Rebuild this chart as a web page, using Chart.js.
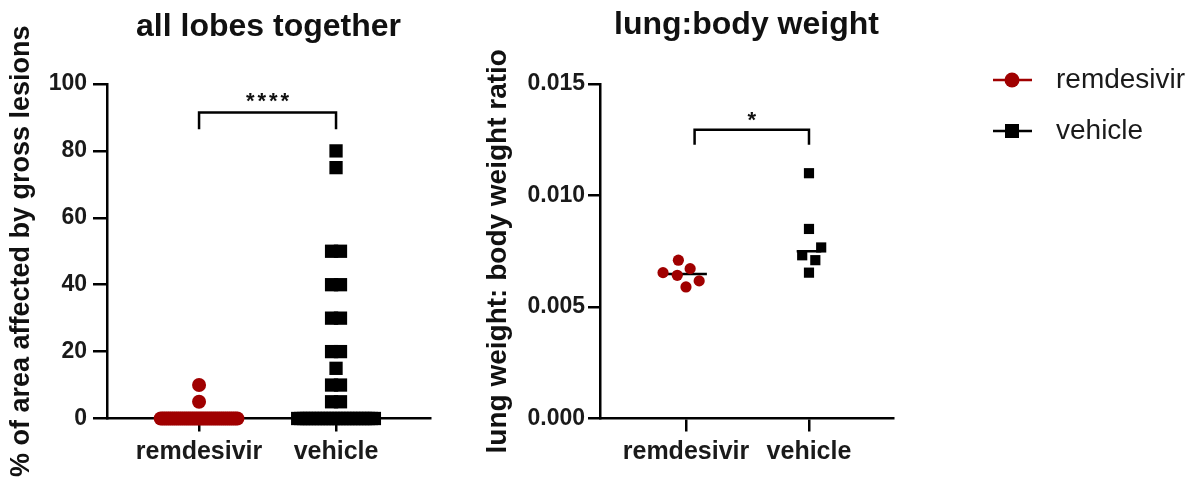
<!DOCTYPE html>
<html>
<head>
<meta charset="utf-8">
<script src="https://cdn.jsdelivr.net/npm/chart.js@4.4.1/dist/chart.umd.min.js"></script>
<style>
  html, body { margin: 0; padding: 0; background: #fff; }
  #wrap { position: relative; width: 1196px; height: 483px; }
  .box { position: absolute; top: 0; height: 483px; }
  #box1 { left: 0; width: 465px; }
  #box2 { left: 465px; width: 731px; }
</style>
</head>
<body>
<div id="wrap">
  <div class="box" id="box1"><canvas id="lobes"></canvas></div>
  <div class="box" id="box2"><canvas id="ratio"></canvas></div>
</div>
<script>
// groups on the x axis
const groups = ["remdesivir", "vehicle"];

// % of area affected by gross lesions (one value per lobe)
const lobesRemdesivir = [10, 5,
  0, 0, 0, 0, 0, 0, 0, 0, 0, 0,
  0, 0, 0, 0, 0, 0, 0, 0, 0, 0,
  0, 0, 0, 0, 0, 0, 0, 0, 0, 0,
  0, 0, 0, 0, 0, 0, 0, 0, 0, 0];
const lobesVehicle = [80, 75, 50, 50, 40, 40, 30, 30, 20, 20, 15, 10, 10, 5, 5,
  0, 0, 0, 0, 0, 0, 0, 0, 0, 0,
  0, 0, 0, 0, 0, 0, 0, 0, 0, 0,
  0, 0, 0, 0, 0, 0, 0];

// lung weight : body weight ratio (one value per animal)
const ratioRemdesivir = [0.0071, 0.00654, 0.0059, 0.00642, 0.00672, 0.00617];
const ratioVehicle    = [0.0110, 0.0085, 0.00767, 0.00732, 0.0071, 0.00654];

// tick labels
const lobesTicks = [0, 20, 40, 60, 80, 100];
const ratioTicks = [0, 0.005, 0.010, 0.015];

const RED = "#a00000";
const FONT = "'Liberation Sans', Arial, sans-serif";
Chart.defaults.font.family = FONT;
Chart.defaults.color = "#1a1a1a";
Chart.defaults.animation = false;

function median(arr) {
  const s = [...arr].sort((a, b) => a - b);
  const m = Math.floor(s.length / 2);
  return s.length % 2 ? s[m] : (s[m - 1] + s[m]) / 2;
}

// points with equal values are laid side by side, squeezed if there are many
function packRow(values, center, step, maxSpread) {
  const counts = {}, seen = {};
  values.forEach(v => counts[v] = (counts[v] || 0) + 1);
  return values.map(v => {
    const k = counts[v];
    const i = seen[v] = (seen[v] === undefined ? 0 : seen[v] + 1);
    const s = k > 1 ? Math.min(step, maxSpread / (k - 1)) : 0;
    return { x: center + (i - (k - 1) / 2) * s, y: v };
  });
}

// simple beeswarm in pixel space
function swarm(chart, values, center, diam) {
  const xs = chart.scales.x, ys = chart.scales.y;
  const unit = xs.getPixelForValue(1) - xs.getPixelForValue(0);
  const placed = [];
  const res = new Array(values.length);
  const order = values.map((v, i) => i).sort((a, b) => values[a] - values[b]);
  order.forEach(i => {
    const py = ys.getPixelForValue(values[i]);
    const cands = [0];
    placed.forEach(p => {
      const dy = py - p.py;
      if (Math.abs(dy) < diam) {
        const dx = Math.sqrt(diam * diam - dy * dy);
        cands.push(p.dx + dx, p.dx - dx);
      }
    });
    cands.sort((a, b) => Math.abs(a) - Math.abs(b));
    const dx = cands.find(c => placed.every(p => (c - p.dx) ** 2 + (py - p.py) ** 2 >= diam * diam - 0.01));
    placed.push({ dx: dx, py: py });
    res[i] = { x: center + dx / unit, y: values[i] };
  });
  return res;
}

function medianLine(values, center, half) {
  const m = median(values);
  return [{ x: center - half, y: m }, { x: center + half, y: m }];
}

// significance bracket
const bracketPlugin = {
  id: "bracket",
  afterDatasetsDraw(chart, args, opts) {
    const { ctx, scales: { x, y } } = chart;
    const x1 = x.getPixelForValue(opts.from), x2 = x.getPixelForValue(opts.to);
    const yTop = y.getPixelForValue(opts.y), yLeg = y.getPixelForValue(opts.y - opts.leg);
    ctx.save();
    ctx.strokeStyle = "#000";
    ctx.lineWidth = 2.5;
    ctx.beginPath();
    ctx.moveTo(x1, yLeg); ctx.lineTo(x1, yTop); ctx.lineTo(x2, yTop); ctx.lineTo(x2, yLeg);
    ctx.stroke();
    ctx.fillStyle = "#111";
    ctx.font = "bold 22px " + FONT;
    ctx.letterSpacing = "3px";
    ctx.textAlign = "center";
    ctx.textBaseline = "middle";
    ctx.fillText(opts.label, (x1 + x2) / 2 + 1.5, y.getPixelForValue(opts.labelY) + 5);
    ctx.restore();
  }
};

// legend with line + marker, drawn right of the second panel
const legendPlugin = {
  id: "sideLegend",
  afterDraw(chart, args, opts) {
    const ctx = chart.ctx;
    ctx.save();
    chart.data.datasets.filter(d => d.showInLegend).forEach((d, i) => {
      const cy = opts.top + i * opts.gap;
      ctx.strokeStyle = d.backgroundColor;
      ctx.lineWidth = 2.5;
      ctx.beginPath();
      ctx.moveTo(opts.x - 19, cy); ctx.lineTo(opts.x + 20, cy);
      ctx.stroke();
      ctx.fillStyle = d.backgroundColor;
      if (d.pointStyle === "rect") {
        ctx.fillRect(opts.x - 7, cy - 7, 14, 14);
      } else {
        ctx.beginPath(); ctx.arc(opts.x, cy, 7.5, 0, Math.PI * 2); ctx.fill();
      }
      ctx.fillStyle = "#1a1a1a";
      ctx.font = "28px " + FONT;
      ctx.textAlign = "left";
      ctx.textBaseline = "middle";
      ctx.fillText(d.label, opts.x + 44, cy);
    });
    ctx.restore();
  }
};

function xAxis(min, max, tickLen, pad, height) {
  return {
    type: "linear", min: min, max: max,
    afterBuildTicks: s => { s.ticks = groups.map((g, i) => ({ value: i })); },
    ticks: { callback: v => groups[v], font: { size: 25, weight: "bold" }, padding: pad, maxRotation: 0 },
    grid: { drawOnChartArea: false, tickLength: tickLen, color: "#000", lineWidth: 2.5 },
    border: { color: "#000", width: 2.5 },
    afterFit: s => { s.height = height; }
  };
}

function yAxis(ticks, fmt, title, titleSize, titlePad, width, tickLen, pad) {
  return {
    min: ticks[0], max: ticks[ticks.length - 1],
    afterBuildTicks: s => { s.ticks = ticks.map(v => ({ value: v })); },
    ticks: { callback: fmt, font: { size: 23, weight: "bold" }, padding: pad },
    grid: { drawOnChartArea: false, tickLength: tickLen, color: "#000", lineWidth: 2.5 },
    border: { color: "#000", width: 2.5 },
    title: { display: true, text: title, font: { size: titleSize, weight: "bold" }, color: "#111", padding: { top: titlePad, bottom: 0 } },
    afterFit: s => { s.width = width; }
  };
}

// ---- panel 1: all lobes together ----
new Chart(document.getElementById("lobes"), {
  type: "scatter",
  data: {
    datasets: [
      { label: "remdesivir", data: packRow(lobesRemdesivir, 0, 0.065, 0.56), pointStyle: "circle",
        pointRadius: 7, backgroundColor: RED, borderWidth: 0, clip: false, order: 0 },
      { label: "vehicle", data: packRow(lobesVehicle, 1, 0.065, 0.56), pointStyle: "rect",
        pointRadius: 9.4, backgroundColor: "#000", borderWidth: 0, clip: false, order: 0 },
      { type: "line", data: medianLine(lobesRemdesivir, 0, 0.2), borderColor: "#000", borderWidth: 2.5, pointRadius: 0, order: 1 },
      { type: "line", data: medianLine(lobesVehicle, 1, 0.2), borderColor: "#000", borderWidth: 2.5, pointRadius: 0, order: 1 }
    ]
  },
  options: {
    responsive: true,
    maintainAspectRatio: false,
    layout: { padding: { left: 0, right: 35, top: 0, bottom: 0 } },
    plugins: {
      legend: { display: false },
      tooltip: { enabled: false },
      title: { display: true, text: "all lobes together", fullSize: false, color: "#111",
        font: { size: 32, weight: "bold" }, padding: { top: 8, bottom: 37.6 } },
      bracket: { from: 0, to: 1, y: 91.5, leg: 5, label: "****", labelY: 96.2 }
    },
    scales: {
      x: xAxis(-0.672, 1.686, 13, 6, 64.5),
      y: yAxis(lobesTicks, v => v, "% of area affected by gross lesions", 27, 5, 107, 14, 6)
    }
  },
  plugins: [bracketPlugin]
});

// ---- panel 2: lung:body weight ----
const ratioChart = new Chart(document.getElementById("ratio"), {
  type: "scatter",
  data: {
    datasets: [
      { label: "remdesivir", showInLegend: true, data: ratioRemdesivir.map(v => ({ x: 0, y: v })), pointStyle: "circle",
        pointRadius: 5.6, backgroundColor: RED, borderWidth: 0, clip: false, order: 0 },
      { label: "vehicle", showInLegend: true, data: ratioVehicle.map(v => ({ x: 1, y: v })), pointStyle: "rect",
        pointRadius: 7.2, backgroundColor: "#000", borderWidth: 0, clip: false, order: 0 },
      { type: "line", data: medianLine(ratioRemdesivir, 0, 0.17), borderColor: "#000", borderWidth: 2.5, pointRadius: 0, order: 1 },
      { type: "line", data: medianLine(ratioVehicle, 1, 0.1), borderColor: "#000", borderWidth: 2.5, pointRadius: 0, order: 1 }
    ]
  },
  options: {
    responsive: true,
    maintainAspectRatio: false,
    layout: { padding: { left: 0, right: 303, top: 0, bottom: 0 } },
    plugins: {
      legend: { display: false },
      tooltip: { enabled: false },
      title: { display: true, text: "lung:body weight", fullSize: false, color: "#111",
        font: { size: 32, weight: "bold" }, padding: { top: 6, bottom: 39.6 } },
      bracket: { from: 0.07, to: 1, y: 0.01295, leg: 0.00067, label: "*", labelY: 0.01357 },
      sideLegend: { x: 547, top: 80, gap: 51 }
    },
    scales: {
      x: xAxis(-0.699, 1.683, 13, 6, 64.5),
      y: yAxis(ratioTicks, v => v.toFixed(3), "lung weight: body weight ratio", 28, 16, 135, 12, 3)
    }
  },
  plugins: [bracketPlugin, legendPlugin]
});

ratioChart.data.datasets[0].data = swarm(ratioChart, ratioRemdesivir, 0, 14.5);
ratioChart.data.datasets[1].data = swarm(ratioChart, ratioVehicle, 1, 14);
ratioChart.update("none");
</script>
</body>
</html>
